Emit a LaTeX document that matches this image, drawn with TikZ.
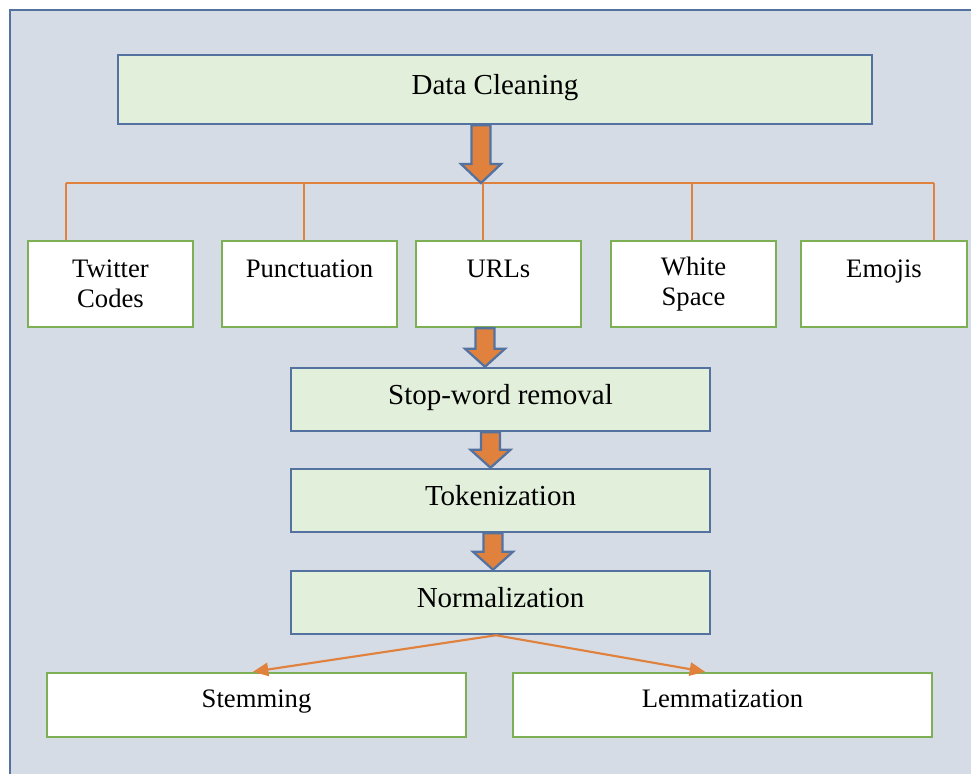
\documentclass[tikz,border=0pt]{standalone}
\usepackage{fontspec}
\setmainfont{Liberation Serif}
\usetikzlibrary{calc,arrows.meta}
\definecolor{bgc}{RGB}{214,220,229}
\definecolor{bluec}{RGB}{84,114,160}
\definecolor{gfill}{RGB}{226,239,218}
\definecolor{gline}{RGB}{125,175,85}
\definecolor{orc}{RGB}{224,130,61}
\newcommand\blockarr[4]{%
  \draw[barrow] let \p1=(#1), \p2=(#2) in
    ({(#3-9.5)*0.75pt},\y1) -- ({(#3+9.5)*0.75pt},\y1)
    -- ({(#3+9.5)*0.75pt},{\y2+#4*0.75pt}) -- ({(#3+20)*0.75pt},{\y2+#4*0.75pt})
    -- ({#3*0.75pt},\y2) -- ({(#3-20)*0.75pt},{\y2+#4*0.75pt})
    -- ({(#3-9.5)*0.75pt},{\y2+#4*0.75pt}) -- cycle;}
\tikzset{
  gbox/.style 2 args={draw=bluec, fill=gfill, line width=1.9pt, inner sep=0pt,
    minimum width={#1*0.75pt}, minimum height={#2*0.75pt},
    text height=15pt, text depth=7pt,
    font=\fontsize{21.75}{25}\selectfont},
  wbox/.style 2 args={draw=gline, fill=white, line width=1.9pt, inner sep=0pt,
    minimum width={#1*0.75pt}, minimum height={#2*0.75pt}, align=center,
    font=\fontsize{20}{22.5}\selectfont},
  oline/.style={draw=orc, line width=1.6pt},
  oarrow/.style={draw=orc, line width=1.6pt, -{Triangle[length=11.5pt,width=10pt]}},
  barrow/.style={fill=orc, draw=bluec, line width=1.7pt, line join=miter}
}
\begin{document}
\begin{tikzpicture}[x=0.75pt, y=-0.75pt]
\useasboundingbox (0,0) rectangle (971,774);
\fill[bgc] (10,10) rectangle (971,774);
\draw[bluec, line width=1.6pt] (10,774) -- (10,10) -- (971,10);

\node[gbox={754}{69}] (dc) at (495,89.5) {Data Cleaning};

\node[wbox={165}{86}] (tw) at (110.5,284) {Twitter\\Codes};
\node[wbox={175}{86}] (pu) at (309.5,284) {Punctuation\\\mbox{}};
\node[wbox={165}{86}] (ur) at (498.5,284) {URLs\\\mbox{}};
\node[wbox={165}{86}] (ws) at (693.5,284) {White\\Space};
\node[wbox={166}{86}] (em) at (884,284) {Emojis\\\mbox{}};

\node[gbox={419}{63}] (sw) at (500.5,399.5) {Stop-word removal};
\node[gbox={419}{63}] (tok) at (500.5,500.5) {Tokenization};
\node[gbox={419}{63}] (norm) at (500.5,602.5) {Normalization};

\node[wbox={419}{64}, text depth=10pt] (stem) at (256.5,705) {Stemming};
\node[wbox={419}{64}, text depth=10pt] (lem) at (722.5,705) {Lemmatization};

% branching lines
\coordinate (hub) at (481,183);
\coordinate (b1) at (66,183);
\coordinate (b2) at (304,183);
\coordinate (b3) at (483,183);
\coordinate (b4) at (692,183);
\coordinate (b5) at (934,183);
\draw[oline] (b1) -- (b5);
\draw[oline] (b1) -- (b1 |- tw.north);
\draw[oline] (b2) -- (b2 |- pu.north);
\draw[oline] (b3) -- (b3 |- ur.north);
\draw[oline] (b4) -- (b4 |- ws.north);
\draw[oline] (b5) -- (b5 |- em.north);

% block arrows
\blockarr{dc.south}{hub}{481}{19}
\blockarr{ur.south}{sw.north}{485}{18}
\blockarr{sw.south}{tok.north}{490.5}{18}
\blockarr{tok.south}{norm.north}{493}{18}

% split arrows
\coordinate (ns) at ($(norm.south)+(-4.5,0)$);
\draw[oarrow] (ns) -- ($(stem.north)+(-3.5,0)$);
\draw[oarrow] (ns) -- ($(lem.north)+(-17.5,0)$);
\end{tikzpicture}
\end{document}
